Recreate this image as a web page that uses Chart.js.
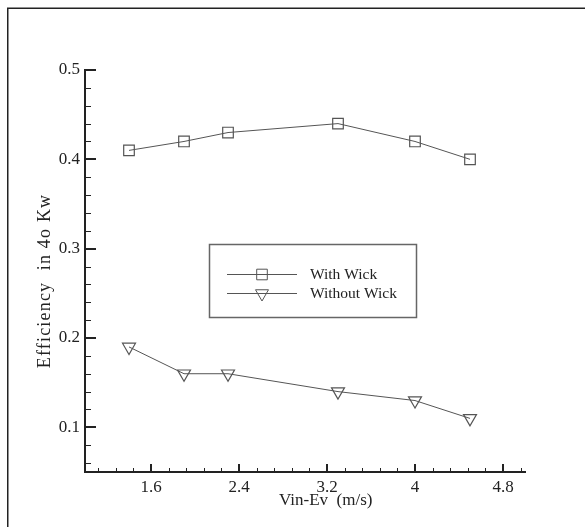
<!DOCTYPE html>
<html>
<head>
<meta charset="utf-8">
<script src="https://cdn.jsdelivr.net/npm/chart.js@4.4.0/dist/chart.umd.min.js"></script>
<style>
  body { margin: 0; background: #fff; }
  canvas { display: block; }
</style>
</head>
<body>
<canvas id="effChart" width="585" height="527"></canvas>
<script>
const speeds = [1.4, 1.9, 2.3, 3.3, 4.0, 4.5];
const withWick = [0.41, 0.42, 0.43, 0.44, 0.42, 0.40];
const withoutWick = [0.19, 0.16, 0.16, 0.14, 0.13, 0.11];
const xTicks = [1.6, 2.4, 3.2, 4, 4.8];
const yTicks = [0.1, 0.2, 0.3, 0.4, 0.5];
const seriesNames = ["With Wick", "Without Wick"];
const xTitle = "Vin-Ev  (m/s)";
const yTitle = "Efficiency  in 4o Kw";

const FONT = '"Liberation Serif", "Times New Roman", serif';
const INK = "#222";
const LINE = "#555";

function toPoints(ys) {
    return speeds.map((x, i) => ({ x: x, y: ys[i] }));
}

// hand-drawn marker so the legend matches the plotted symbols
function drawMarker(ctx, style, x, y, r) {
    ctx.beginPath();
    if (style === "rect") {
        const s = r * Math.SQRT1_2;
        ctx.rect(x - s, y - s, 2 * s, 2 * s);
    } else {
        // downward triangle, centred on its centroid
        ctx.moveTo(x, y + r);
        ctx.lineTo(x - r * 0.866, y - r / 2);
        ctx.lineTo(x + r * 0.866, y - r / 2);
        ctx.closePath();
    }
    ctx.stroke();
}

const decorPlugin = {
    id: "decor",
    afterDraw(chart) {
        const ctx = chart.ctx;
        const area = chart.chartArea;
        const xs = chart.scales.x;
        const ys = chart.scales.y;
        ctx.save();

        // inward ticks: 4 minor between each pair of majors
        ctx.strokeStyle = INK;
        ctx.lineWidth = 1;
        ctx.beginPath();
        for (let k = -3; k <= 21; k++) {
            const v = 1.6 + k * 0.16;
            if (v <= xs.min || v >= xs.max) continue;
            const px = Math.round(xs.getPixelForValue(v)) + 0.5;
            const len = k % 5 === 0 ? 8 : 4;
            ctx.moveTo(px, area.bottom);
            ctx.lineTo(px, area.bottom - len);
        }
        for (let k = -2; k <= 20; k++) {
            const v = 0.1 + k * 0.02;
            if (v <= ys.min || v > ys.max + 1e-9) continue;
            const py = Math.round(ys.getPixelForValue(v)) + 0.5;
            const len = k % 5 === 0 ? 11 : 6;
            ctx.moveTo(area.left, py);
            ctx.lineTo(area.left + len, py);
        }
        ctx.stroke();
        // major ticks a little heavier
        ctx.lineWidth = 2;
        ctx.beginPath();
        xTicks.forEach(v => {
            const px = Math.round(xs.getPixelForValue(v));
            ctx.moveTo(px, area.bottom);
            ctx.lineTo(px, area.bottom - 8);
        });
        yTicks.forEach(v => {
            const py = Math.round(ys.getPixelForValue(v));
            ctx.moveTo(area.left, py);
            ctx.lineTo(area.left + 11, py);
        });
        ctx.stroke();

        // axis titles
        ctx.fillStyle = INK;
        ctx.font = "17px " + FONT;
        ctx.textBaseline = "middle";
        ctx.textAlign = "left";
        ctx.fillText(xTitle, 279, 501);
        ctx.save();
        ctx.translate(45, 281);
        ctx.rotate(-Math.PI / 2);
        ctx.textAlign = "center";
        ctx.font = "18px " + FONT;
        ctx.letterSpacing = "1.2px";
        ctx.fillText(yTitle, 0, 0);
        ctx.restore();

        // legend box
        ctx.strokeStyle = "#666";
        ctx.lineWidth = 1.5;
        ctx.strokeRect(209.5, 244.5, 207, 73);
        const styles = ["rect", "triangle"];
        const rows = [274.5, 293.5];
        ctx.font = "15.5px " + FONT;
        ctx.textAlign = "left";
        seriesNames.forEach((name, i) => {
            ctx.strokeStyle = LINE;
            ctx.lineWidth = 1;
            ctx.beginPath();
            ctx.moveTo(227, rows[i]);
            ctx.lineTo(297, rows[i]);
            ctx.stroke();
            drawMarker(ctx, styles[i], 262, rows[i], 7.5);
            ctx.fillStyle = INK;
            ctx.fillText(name, 310, rows[i]);
        });

        // outer frame (top and left edges)
        ctx.strokeStyle = INK;
        ctx.lineWidth = 1.5;
        ctx.beginPath();
        ctx.moveTo(585, 8.25);
        ctx.lineTo(7.75, 8.25);
        ctx.lineTo(7.75, 527);
        ctx.stroke();
        ctx.restore();
    }
};

const ctx = document.getElementById("effChart").getContext("2d");
new Chart(ctx, {
    type: "line",
    data: {
        datasets: [
            {
                label: seriesNames[0],
                data: toPoints(withWick),
                borderColor: LINE,
                borderWidth: 1,
                pointStyle: "rect",
                pointRadius: 7.5,
                pointBorderColor: LINE,
                pointBorderWidth: 1.2,
                pointBackgroundColor: "rgba(0,0,0,0)",
                tension: 0
            },
            {
                label: seriesNames[1],
                data: toPoints(withoutWick),
                borderColor: LINE,
                borderWidth: 1,
                pointStyle: "triangle",
                pointRotation: 180,
                pointRadius: 7.5,
                pointBorderColor: LINE,
                pointBorderWidth: 1.2,
                pointBackgroundColor: "rgba(0,0,0,0)",
                tension: 0
            }
        ]
    },
    options: {
        responsive: false,
        animation: false,
        devicePixelRatio: 1,
        layout: { padding: { top: 70, right: 60, left: 0, bottom: 0 } },
        plugins: {
            legend: { display: false },
            tooltip: { enabled: false }
        },
        scales: {
            x: {
                type: "linear",
                min: 1,
                max: 5,
                afterBuildTicks: s => { s.ticks = xTicks.map(v => ({ value: v })); },
                afterFit: s => { s.height = 55; },
                grid: { display: false, drawTicks: false },
                border: { display: true, color: INK, width: 2 },
                ticks: {
                    color: INK,
                    padding: 5,
                    maxRotation: 0,
                    font: { family: FONT, size: 17 },
                    callback: v => String(v)
                }
            },
            y: {
                type: "linear",
                min: 0.05,
                max: 0.5,
                afterBuildTicks: s => { s.ticks = yTicks.map(v => ({ value: v })); },
                afterFit: s => { s.width = 85; },
                grid: { display: false, drawTicks: false },
                border: { display: true, color: INK, width: 2 },
                ticks: {
                    color: INK,
                    padding: 5,
                    font: { family: FONT, size: 17 },
                    callback: v => String(v)
                }
            }
        }
    },
    plugins: [decorPlugin]
});
</script>
</body>
</html>
